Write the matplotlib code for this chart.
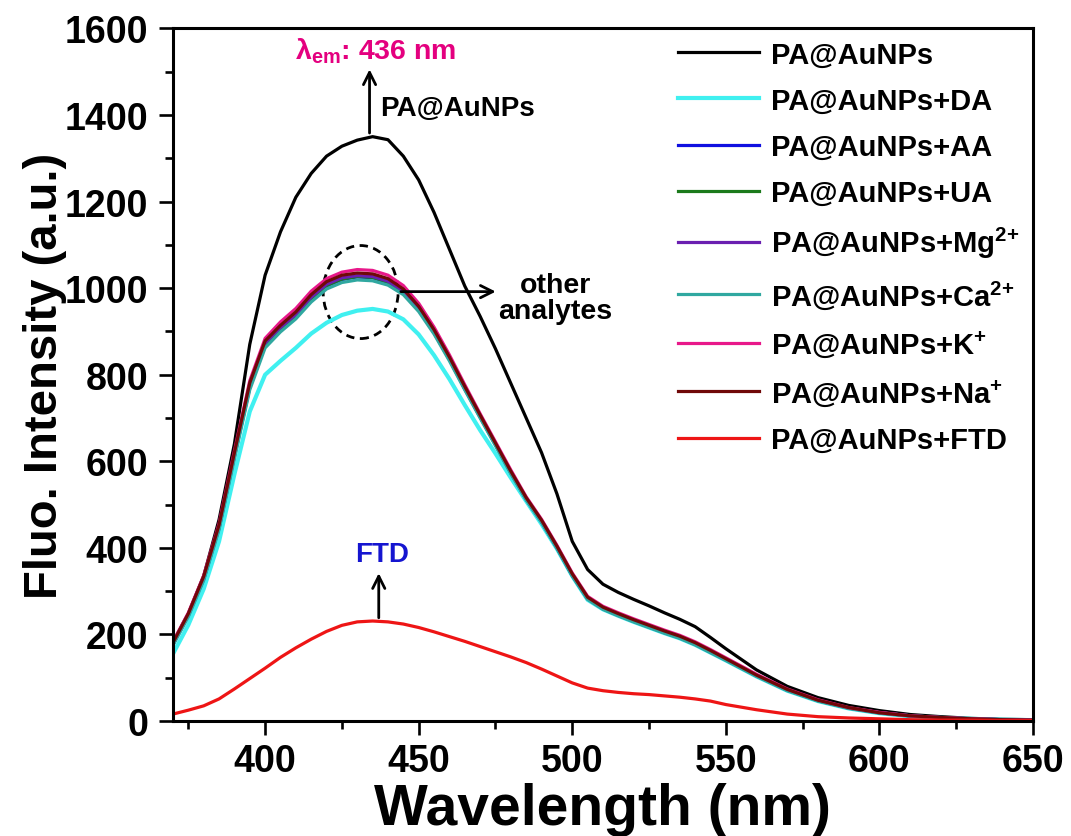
import numpy as np
import matplotlib.pyplot as plt
from matplotlib.patches import Ellipse

plt.rcParams['font.family'] = ['Liberation Sans', 'DejaVu Sans']
plt.rcParams['font.weight'] = 'bold'
plt.rcParams['mathtext.fontset'] = 'custom'
plt.rcParams['mathtext.rm'] = 'Liberation Sans:bold'
plt.rcParams['mathtext.bf'] = 'Liberation Sans:bold'
plt.rcParams['mathtext.it'] = 'Liberation Sans:bold'

# wavelength grid (nm)
wl = [370, 375, 380, 385, 390, 395, 400, 405, 410, 415, 420, 425, 430, 435, 440,
      445, 450, 455, 460, 465, 470, 475, 480, 485, 490, 495, 500, 505, 510, 515,
      520, 525, 530, 535, 540, 545, 550, 560, 570, 580, 590, 600, 610, 620, 630,
      640, 650]

pa = [182, 248, 335, 465, 640, 870, 1030, 1130, 1210, 1265, 1305, 1328, 1342, 1350, 1343,
      1305, 1250, 1175, 1090, 1005, 935, 860, 780, 700, 620, 525, 415, 350, 316, 297,
      281, 266, 250, 235, 218, 193, 167, 118, 80, 54, 36, 24, 15, 10, 6,
      4, 3]
pa_da = [155, 222, 305, 415, 570, 715, 800, 832, 862, 895, 920, 938, 948, 952, 946,
         928, 893, 845, 790, 730, 672, 618, 562, 508, 455, 398, 335, 280, 258, 243,
         229, 216, 203, 191, 176, 158, 140, 103, 70, 46, 29, 18, 11, 7, 5,
         3, 2]
pa_aa = [176, 243, 327, 445, 610, 770, 868, 905, 935, 975, 1005, 1020, 1026, 1024, 1013,
         990, 950, 897, 835, 767, 702, 638, 573, 512, 460, 400, 336, 282, 259, 244,
         230, 217, 204, 192, 177, 159, 141, 104, 71, 47, 30, 19, 12, 7, 5,
         3, 2]
pa_ua = [178, 245, 330, 448, 613, 773, 870, 906, 936, 976, 1006, 1021, 1027, 1025, 1014,
         991, 951, 898, 836, 768, 703, 639, 574, 513, 461, 401, 337, 283, 260, 245,
         231, 218, 205, 193, 178, 160, 142, 105, 72, 47, 30, 19, 12, 8, 5,
         3, 2]
pa_mg = [179, 246, 331, 450, 616, 776, 873, 909, 939, 979, 1009, 1024, 1029, 1027, 1016,
         993, 953, 900, 838, 770, 705, 640, 575, 514, 462, 402, 338, 284, 261, 246,
         232, 219, 206, 194, 179, 161, 143, 105, 72, 48, 30, 19, 12, 8, 5,
         3, 2]
pa_ca = [175, 241, 325, 442, 606, 765, 862, 899, 929, 968, 998, 1013, 1019, 1017, 1007,
         985, 946, 894, 832, 765, 700, 636, 571, 511, 459, 399, 335, 281, 258, 243,
         229, 216, 203, 191, 176, 158, 140, 103, 70, 46, 29, 18, 11, 7, 5,
         3, 2]
pa_k = [183, 250, 336, 456, 624, 786, 884, 922, 953, 993, 1022, 1037, 1043, 1041, 1030,
        1006, 965, 910, 846, 777, 710, 645, 580, 518, 466, 406, 342, 288, 265, 250,
        236, 223, 210, 198, 183, 165, 146, 108, 74, 49, 31, 20, 12, 8, 5,
        3, 2]
pa_na = [181, 248, 334, 453, 620, 781, 878, 914, 945, 985, 1015, 1030, 1035, 1033, 1022,
         998, 958, 904, 841, 773, 707, 642, 577, 516, 464, 404, 340, 286, 263, 248,
         234, 221, 208, 196, 181, 163, 144, 106, 73, 48, 31, 19, 12, 8, 5,
         3, 2]
pa_ftd = [16, 25, 35, 51, 74, 98, 122, 147, 169, 189, 207, 221, 229, 231, 229,
          224, 216, 206, 195, 184, 172, 160, 148, 135, 120, 104, 88, 76, 70, 66,
          63, 61, 58, 55, 51, 46, 38, 26, 16, 10, 7, 5, 3, 2, 2,
          1, 1]

labels = ['PA@AuNPs', 'PA@AuNPs+DA', 'PA@AuNPs+AA', 'PA@AuNPs+UA',
          r'PA@AuNPs+Mg$^{\text{2+}}$', r'PA@AuNPs+Ca$^{\text{2+}}$', r'PA@AuNPs+K$^{\text{+}}$',
          r'PA@AuNPs+Na$^{\text{+}}$', 'PA@AuNPs+FTD']
series = [pa, pa_da, pa_aa, pa_ua, pa_mg, pa_ca, pa_k, pa_na, pa_ftd]
colors = ['black', '#40F0F0', '#1010E0', '#1B7A1B', '#6A1FB0', '#30A8A0',
          '#E8188A', '#700808', '#EE1515']

fig = plt.figure(figsize=(10.71, 8.37), dpi=100)
ax = fig.add_axes([0.1615, 0.1374, 0.803, 0.8274])

for y, c, lab in zip(series, colors, labels):
    lw = 3.0 if c == '#40F0F0' else 2.3
    ax.plot(wl, y, color=c, lw=lw, label=lab)

ax.set_xlim(370, 650)
ax.set_ylim(0, 1600)
ax.set_xticks([400, 450, 500, 550, 600, 650])
ax.set_xticks(np.arange(375, 651, 25), minor=True)
ax.set_yticks(np.arange(0, 1601, 200))
ax.set_yticks(np.arange(100, 1600, 200), minor=True)
ax.tick_params(which='major', direction='out', length=10, width=1.9, labelsize=27, pad=6)
ax.tick_params(which='minor', direction='out', length=5.5, width=1.9)
ax.tick_params(axis='y', which='major', pad=8)
for s in ax.spines.values():
    s.set_linewidth(2.2)

ax.set_xlabel('Wavelength (nm)', fontsize=41, fontweight='bold', labelpad=2)
ax.set_ylabel('Fluo. Intensity (a.u.)', fontsize=34, fontweight='bold', labelpad=-2)

leg = ax.legend(loc='upper left', bbox_to_anchor=(0.563, 1.012), frameon=False,
                fontsize=21, handlelength=2.8, handletextpad=0.4, labelspacing=0.62,
                borderaxespad=0.3)

# annotations
ax.text(436, 1549, r'λ$_{\mathrm{em}}$: 436 nm', color='#E4007F', fontsize=20.5,
        ha='center', va='center', fontweight='bold')
ax.annotate('', xy=(434, 1512), xytext=(434, 1352),
            arrowprops=dict(arrowstyle='->', color='black', lw=2, mutation_scale=22))
ax.text(437.5, 1417, 'PA@AuNPs', fontsize=20, ha='left', va='center', fontweight='bold')

ax.add_patch(Ellipse((431.1, 991), 24.4, 215, fill=False, ls=(0, (3, 2)), lw=2, color='black'))
ax.annotate('', xy=(476, 992), xytext=(443.3, 992),
            arrowprops=dict(arrowstyle='->', color='black', lw=2, mutation_scale=22))
ax.text(494.5, 978, 'other\nanalytes', fontsize=20.5, ha='center', va='center',
        fontweight='bold', linespacing=1.0)

ax.annotate('', xy=(437, 348), xytext=(437, 232),
            arrowprops=dict(arrowstyle='->', color='black', lw=2, mutation_scale=22))
ax.text(438, 386, 'FTD', color='#1515D0', fontsize=20, ha='center', va='center',
        fontweight='bold')

fig.savefig('out.png', dpi=100)
